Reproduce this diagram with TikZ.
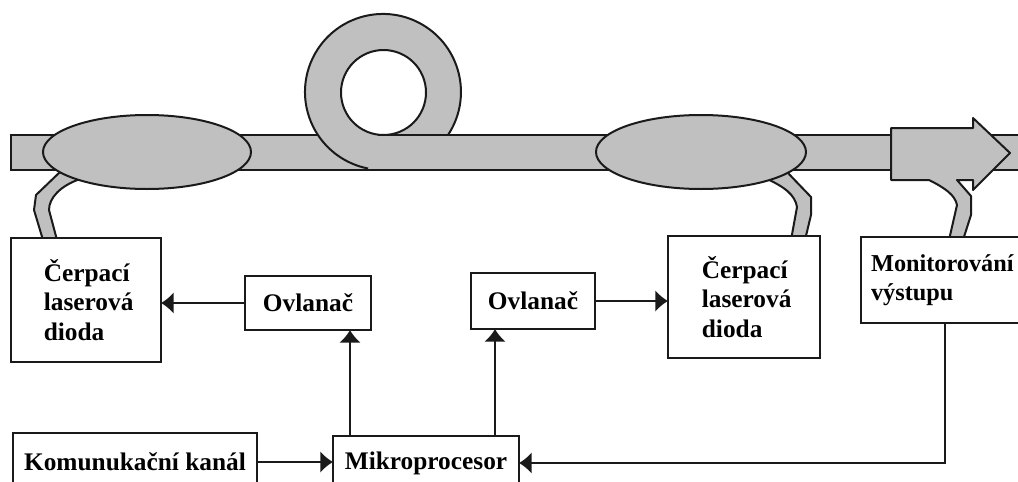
\documentclass[tikz,border=0pt]{standalone}
\usepackage{fontspec}
\setmainfont{Liberation Serif}
\usetikzlibrary{arrows.meta,calc}
\definecolor{fibre}{HTML}{C0C0C0}
\definecolor{ink}{HTML}{1A1A1A}
\tikzset{
  inkline/.style={draw=ink,line width=1.5pt},
  part/.style={inkline,fill=fibre,line join=round},
  box/.style={inkline,fill=white,rectangle,inner sep=0pt,align=left,
    font=\fontsize{19pt}{22pt}\selectfont\bfseries},
  conn/.style={inkline,-{Latex[length=9.5pt,width=16.5pt]},shorten >=-0.75pt},
}
\begin{document}
\begin{tikzpicture}[x=0.75pt,y=-0.75pt]
\useasboundingbox (0,0) rectangle (1018,482);
\clip (0,0) rectangle (1018,482);
% fibre
\fill[fibre] (11,135) rectangle (1030,170);
\fill[fibre] (448,135) arc[start angle=33.5,end angle=-259,radius=78] -- cycle;
\draw[inkline,fill=white] (383.5,92.5) circle[radius=42.5];
\draw[inkline] (448,135) arc[start angle=33.5,end angle=-259,radius=78];
\draw[inkline] (317,135) -- (11,135) -- (11,170) -- (1030,170);
\draw[inkline] (378,135) -- (1030,135);
% tails
\draw[part] (60,172) -- (36,195) -- (34,210) -- (43,240) -- (57,240) -- (49,210)
  .. controls (49,198) and (60,186) .. (80,179) -- cycle;
\draw[part] (787,172) -- (811,197) -- (811,215) -- (805,240) -- (791,240) -- (797,207)
  .. controls (795,195) and (785,187) .. (765,178) -- cycle;
% couplers
\draw[part] (147,152) ellipse[x radius=104,y radius=37];
\draw[part] (701,152) ellipse[x radius=105,y radius=37];
% output arrow with tap
\draw[part] (891,128) -- (973,128) -- (973,118) -- (1010,153) -- (973,190) -- (973,180)
  -- (957,180) -- (971,196) -- (971,215) -- (963,240) -- (949,240) -- (957,205)
  .. controls (955,195) and (945,188) .. (929,180) -- (891,180) -- cycle;
% boxes
\node[box,minimum width=112.5pt,minimum height=93pt] (pumpL) at (86,300)
  {\hspace*{4pt}Čerpací\\\hspace*{4pt}laserová\\\hspace*{4pt}dioda};
\node[box,minimum width=114pt,minimum height=91.5pt] (pumpR) at (744,297)
  {\hspace*{4pt}Čerpací\\\hspace*{4pt}laserová\\\hspace*{4pt}dioda};
\node[box,minimum width=126pt,minimum height=64.5pt,font=\fontsize{18.2pt}{22pt}\selectfont\bfseries] (mon) at (945,280)
  {Monitorování\hspace*{4pt}\\výstupu};
\node[box,minimum width=94.5pt,minimum height=40.5pt] (ovL) at (308,303) {Ovlanač};
\node[box,minimum width=93pt,minimum height=42pt] (ovR) at (533,301) {Ovlanač};
\node[box,minimum width=183pt,minimum height=43.5pt] (kom) at (135,462) {Komunukační kanál};
\node[box,minimum width=139.5pt,minimum height=40.5pt] (mik) at (426,463) {Mikroprocesor};
% connectors
\coordinate (upL) at ($(mik.north west)+(18,0)$);
\coordinate (upR) at ($(mik.north west)+(163,0)$);
\draw[conn] (ovL.west) -- (pumpL.east |- ovL.west);
\draw[conn] (ovR.east) -- (pumpR.west |- ovR.east);
\draw[conn] (upL) -- (upL |- ovL.south);
\draw[conn] (upR) -- (upR |- ovR.south);
\draw[conn] (kom.east) -- (mik.west |- kom.east);
\draw[conn] (mon.south) -- (mon.south |- mik.east) -- (mik.east);
\end{tikzpicture}
\end{document}
